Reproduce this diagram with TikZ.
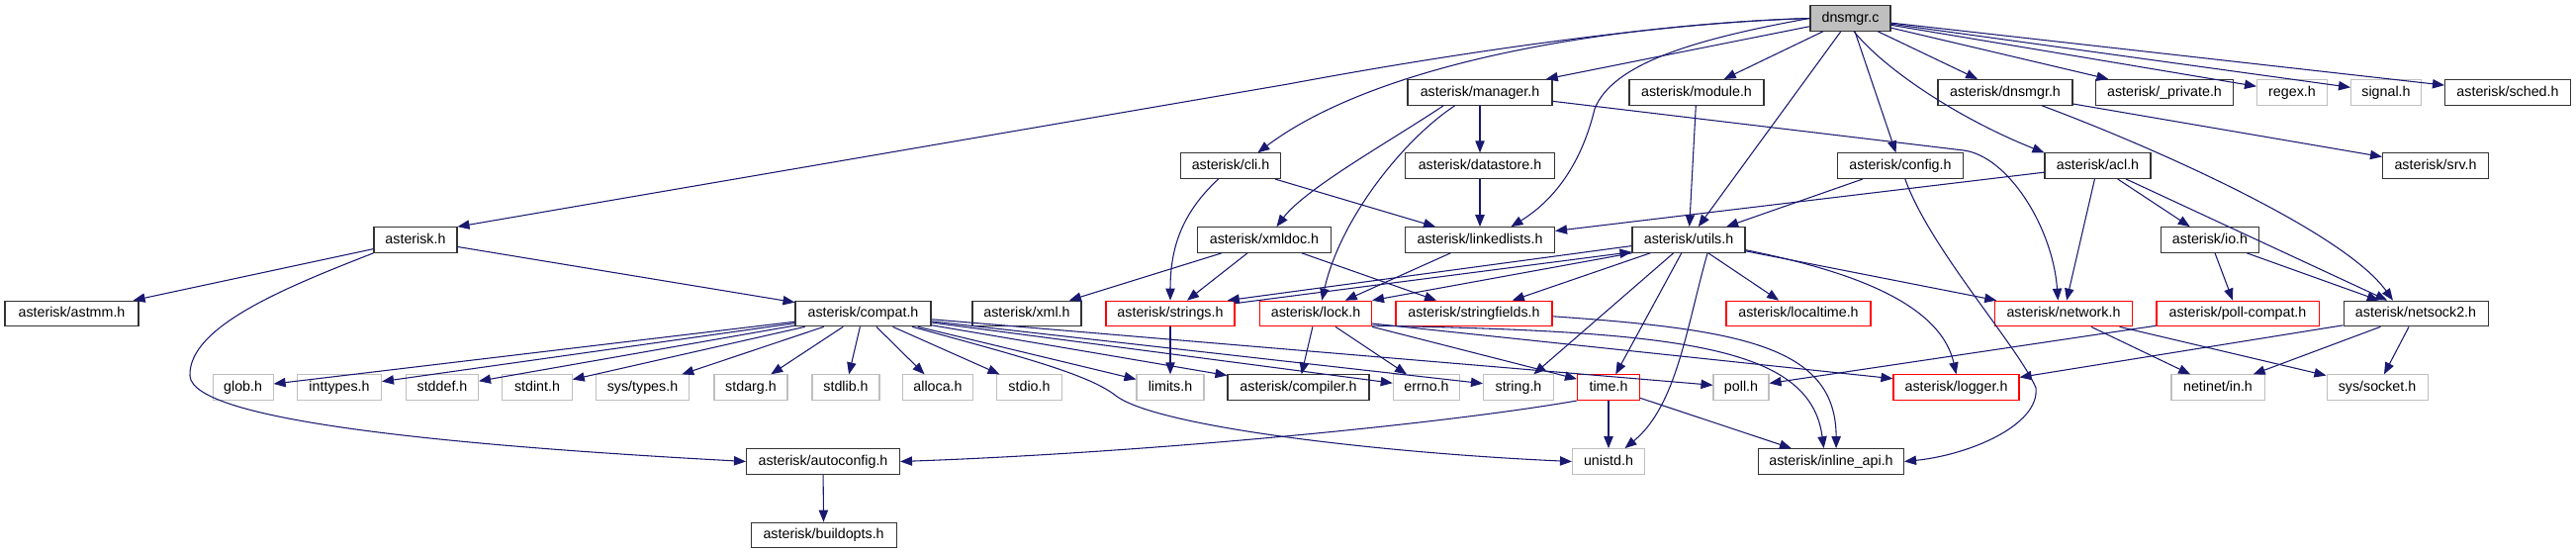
\documentclass[tikz,border=0pt]{standalone}
\usepackage{fontspec}
\setmainfont{Liberation Sans}
\usetikzlibrary{arrows.meta}
\definecolor{edgec}{HTML}{191970}
\definecolor{nodeg}{HTML}{BFBFBF}
\definecolor{boxk}{HTML}{333333}
\definecolor{boxr}{HTML}{FF0000}
\tikzset{
  hb/.style={draw=boxk, fill=white, line width=0.8pt, minimum height=19.2pt, inner sep=0pt,
    font=\fontsize{10.7}{12}\selectfont, text height=7.8pt, text depth=2.2pt},
  hr/.style={hb, draw=boxr},
  hg/.style={hb, draw=nodeg},
  hm/.style={hb, fill=nodeg},
  bw/.style={minimum width=#1*0.75pt},
  ed/.style={draw=edgec, line width=0.8pt, -{Triangle[length=9pt,width=7pt]}}
}
\begin{document}
\begin{tikzpicture}[x=0.75pt,y=-0.75pt]
\useasboundingbox (0,0) rectangle (2604,560);
% row 0
\node[hm,bw=81] (dnsmgr) at (1870.5,18.5) {dnsmgr.c};
% row 1
\node[hb,bw=146] (mgr) at (1496,93.3) {asterisk/manager.h};
\node[hb,bw=136] (module) at (1715,93.3) {asterisk/module.h};
\node[hb,bw=136] (dnsh) at (2027,93.3) {asterisk/dnsmgr.h};
\node[hb,bw=139] (priv) at (2188,93.3) {asterisk/\_private.h};
\node[hg,bw=71] (regex) at (2317,93.3) {regex.h};
\node[hg,bw=71] (signal) at (2412,93.3) {signal.h};
\node[hb,bw=127] (sched) at (2535,93.3) {asterisk/sched.h};
% row 2
\node[hb,bw=101] (cli) at (1244,167.7) {asterisk/cli.h};
\node[hb,bw=151] (dstore) at (1496,167.7) {asterisk/datastore.h};
\node[hb,bw=127] (config) at (1921,167.7) {asterisk/config.h};
\node[hb,bw=107] (acl) at (2120.5,167.7) {asterisk/acl.h};
\node[hb,bw=107] (srv) at (2462,167.7) {asterisk/srv.h};
% row 3
\node[hb,bw=84] (ast) at (420,242.5) {asterisk.h};
\node[hb,bw=135] (xmldoc) at (1278,242.5) {asterisk/xmldoc.h};
\node[hb,bw=151] (llist) at (1496,242.5) {asterisk/linkedlists.h};
\node[hb,bw=114] (utils) at (1707,242.5) {asterisk/utils.h};
\node[hb,bw=99] (io) at (2234,242.5) {asterisk/io.h};
% row 4
\node[hb,bw=135] (astmm) at (72.5,317) {asterisk/astmm.h};
\node[hb,bw=137] (compat) at (872.5,317) {asterisk/compat.h};
\node[hb,bw=110] (xml) at (1038,317) {asterisk/xml.h};
\node[hr,bw=130] (strs) at (1183,317) {asterisk/strings.h};
\node[hr,bw=113] (lock) at (1330,317) {asterisk/lock.h};
\node[hr,bw=158] (sfields) at (1490,317) {asterisk/stringfields.h};
\node[hr,bw=146] (ltime) at (1818,317) {asterisk/localtime.h};
\node[hr,bw=139] (net) at (2086,317) {asterisk/network.h};
\node[hr,bw=164] (pollc) at (2262,317) {asterisk/poll-compat.h};
\node[hb,bw=146] (nsock) at (2442,317) {asterisk/netsock2.h};
% row 5
\node[hg,bw=61] (glob) at (245.6,391.7) {glob.h};
\node[hg,bw=85] (intt) at (343,391.7) {inttypes.h};
\node[hg,bw=73] (stddef) at (447,391.7) {stddef.h};
\node[hg,bw=70.5] (stdint) at (543,391.7) {stdint.h};
\node[hg,bw=94] (systypes) at (649.5,391.7) {sys/types.h};
\node[hg,bw=74] (stdarg) at (759,391.7) {stdarg.h};
\node[hg,bw=68] (stdlib) at (855,391.7) {stdlib.h};
\node[hg,bw=71] (alloca) at (948,391.7) {alloca.h};
\node[hg,bw=65.5] (stdio) at (1040.5,391.7) {stdio.h};
\node[hg,bw=68] (limits) at (1183,391.7) {limits.h};
\node[hb,bw=143] (compiler) at (1312.5,391.7) {asterisk/compiler.h};
\node[hg,bw=67.5] (errno) at (1442,391.7) {errno.h};
\node[hg,bw=71] (string) at (1535,391.7) {string.h};
\node[hr,bw=63] (time) at (1626,391.7) {time.h};
\node[hg,bw=56] (poll) at (1760,391.7) {poll.h};
\node[hr,bw=127] (logger) at (1977.5,391.7) {asterisk/logger.h};
\node[hg,bw=94] (netin) at (2242,391.7) {netinet/in.h};
\node[hg,bw=102] (syssock) at (2403,391.7) {sys/socket.h};
% row 6
\node[hb,bw=155] (aconf) at (832,466.5) {asterisk/autoconfig.h};
\node[hg,bw=73] (unistd) at (1626,466.5) {unistd.h};
\node[hb,bw=147] (inline) at (1851,466.5) {asterisk/inline\_api.h};
% row 7
\node[hb,bw=147] (bopts) at (832.6,541) {asterisk/buildopts.h};

% ---- edges ----
% dnsmgr.c
\draw[ed] (dnsmgr.west) .. controls (1700,22) and (1500,48) .. (1302,85) -- (ast.north east);
\draw[ed] (dnsmgr.west) .. controls (1560,28) and (1370,80) .. (cli.26);
\draw[ed] (dnsmgr) -- (mgr);
\draw[ed] (dnsmgr.west) .. controls (1710,40) and (1630,65) .. (1612,110) .. controls (1600,160) and (1575,200) .. (llist.23);
\draw[ed] (dnsmgr) -- (module);
\draw[ed] (dnsmgr) -- (utils);
\draw[ed] (dnsmgr) -- (config);
\draw[ed] (dnsmgr.-75) .. controls (1905,70) and (1980,120) .. (acl.north west);
\draw[ed] (dnsmgr) -- (dnsh);
\draw[ed] (dnsmgr) -- (priv);
\draw[ed] (dnsmgr) -- (regex);
\draw[ed] (dnsmgr) -- (signal);
\draw[ed] (dnsmgr) -- (sched);
% asterisk.h
\draw[ed] (ast) -- (astmm);
\draw[ed] (ast) -- (compat);
\draw[ed] (ast.south west) .. controls (290,290) and (190,330) .. (192,380) .. controls (195,425) and (450,450) .. (aconf.west);
% manager.h
\draw[ed] (mgr) -- (dstore);
\draw[ed] (mgr.200) .. controls (1410,140) and (1320,190) .. (xmldoc.47);
\draw[ed] (mgr.208) .. controls (1420,140) and (1355,220) .. (lock.65);
\draw[ed] (mgr.-7) -- (1985,152) .. controls (2030,158) and (2075,230) .. (net.113);
% cli.h
\draw[ed] (cli.227) .. controls (1195,215) and (1183,250) .. (strs.north);
\draw[ed] (cli) -- (llist);
% datastore.h, module.h
\draw[ed] (dstore) -- (llist);
\draw[ed] (module) -- (utils);
% config.h
\draw[ed] (config) -- (utils);
\draw[ed] (config.-70) .. controls (1950,250) and (2040,350) .. (2058,392) .. controls (2062,430) and (1990,460) .. (inline.east);
% acl.h
\draw[ed] (acl) -- (llist);
\draw[ed] (acl) -- (net);
\draw[ed] (acl) -- (io);
\draw[ed] (acl) -- (nsock);
% dnsmgr.h
\draw[ed] (dnsh) -- (srv);
\draw[ed] (dnsh.-20) .. controls (2180,150) and (2370,235) .. (nsock.150);
% xmldoc.h
\draw[ed] (xmldoc) -- (xml);
\draw[ed] (xmldoc) -- (strs);
\draw[ed] (xmldoc) -- (sfields);
% linkedlists.h
\draw[ed] (llist) -- (lock);
% utils.h
\draw[ed] (utils.186) -- (strs.13);
\draw[ed] (strs.9) -- (utils.192);
\draw[ed] (utils.south west) -- (lock.north east);
\draw[ed] (utils) -- (sfields);
\draw[ed] (utils) -- (string);
\draw[ed] (utils) -- (time);
\draw[ed] (utils.-35) .. controls (1705,330) and (1695,410) .. (unistd.39);
\draw[ed] (utils) -- (ltime);
\draw[ed] (utils) -- (net);
\draw[ed] (utils.-10) .. controls (1850,270) and (1960,300) .. (logger.north);
% io.h
\draw[ed] (io) -- (pollc);
\draw[ed] (io) -- (nsock);
% compat.h
\foreach \n in {glob,intt,stddef,stdint,systypes,stdarg,stdlib,alloca,stdio,limits,compiler,errno,string,poll}
  \draw[ed] (compat) -- (\n);
\draw[ed] (compat.-15) .. controls (1030,360) and (1100,378) .. (1128,400) .. controls (1170,432) and (1400,458) .. (unistd.west);
% strings.h
\draw[ed] (strs) -- (limits);
% lock.h
\draw[ed] (lock) -- (compiler);
\draw[ed] (lock) -- (errno);
\draw[ed] (lock.south east) -- (time.165);
\draw[ed] (lock.-10) -- (logger.172);
\draw[ed] (lock.-12) .. controls (1700,335) and (1830,350) .. (inline.119);
% stringfields.h
\draw[ed] (sfields.-2) .. controls (1760,333) and (1856,350) .. (inline.69);
% time.h
\draw[ed] (time) -- (unistd);
\draw[ed] (time) -- (inline);
\draw[ed] (time.south west) .. controls (1450,430) and (1150,458) .. (aconf.east);
% network.h
\draw[ed] (net) -- (netin);
\draw[ed] (net) -- (syssock);
% poll-compat.h
\draw[ed] (pollc) -- (poll);
% netsock2.h
\draw[ed] (nsock) -- (logger);
\draw[ed] (nsock) -- (netin);
\draw[ed] (nsock) -- (syssock);
% autoconfig.h
\draw[ed] (aconf) -- (bopts);
\end{tikzpicture}
\end{document}
